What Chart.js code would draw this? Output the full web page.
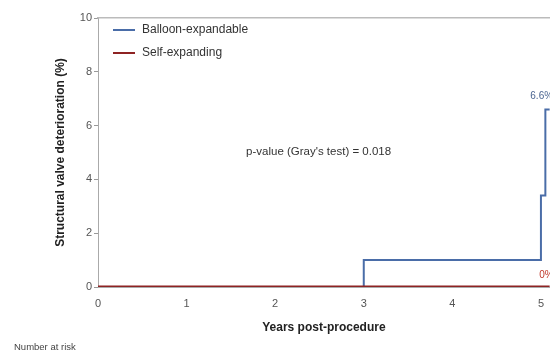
<!DOCTYPE html>
<html>
<head>
<meta charset="utf-8">
<script src="https://cdn.jsdelivr.net/npm/chart.js@4/dist/chart.umd.min.js"></script>
<style>
  html, body { margin: 0; padding: 0; background: #fff; overflow: hidden; }
  #wrap { width: 550px; height: 353px; }
</style>
</head>
<body>
<div id="wrap"><canvas id="sdvChart" width="550" height="353"></canvas></div>
<script>
// years post-procedure vs cumulative incidence (%)
const xTicks = [0, 1, 2, 3, 4, 5];
const yTicks = [0, 2, 4, 6, 8, 10];
const balloonX = [0, 3, 5, 5.05, 5.1];
const balloonY = [0, 1.0, 3.4, 6.6, 6.6];
const selfX = [0, 5.1];
const selfY = [0, 0];
const seriesNames = ['Balloon-expandable', 'Self-expanding'];
const seriesColors = ['#4a6da8', '#8e2323'];
const endLabels = ['6.6%', '0%'];
const pValueText = "p-value (Gray's test) = 0.018";

const toPoints = (xs, ys) => xs.map((x, i) => ({ x: x, y: ys[i] }));

const FONT = '"Liberation Sans", Arial, sans-serif';

// legend sits inside the plot, top left, plus the free text labels
const notes = {
    id: 'notes',
    afterDatasetsDraw(chart) {
        const { ctx, scales: { x, y } } = chart;
        ctx.save();
        ctx.textBaseline = 'middle';

        seriesNames.forEach((name, i) => {
            const ly = 30 + i * 23;
            ctx.strokeStyle = seriesColors[i];
            ctx.lineWidth = 2;
            ctx.beginPath();
            ctx.moveTo(113, ly);
            ctx.lineTo(135, ly);
            ctx.stroke();
            ctx.fillStyle = '#333';
            ctx.textAlign = 'left';
            ctx.font = '12px ' + FONT;
            ctx.fillText(name, 142, ly);
        });

        ctx.font = '11.5px ' + FONT;
        ctx.fillStyle = '#333';
        ctx.textAlign = 'center';
        ctx.fillText(pValueText, x.getPixelForValue(2.49), y.getPixelForValue(5.02));

        ctx.textAlign = 'left';
        ctx.font = '10px ' + FONT;
        ctx.fillStyle = '#4a6490';
        ctx.fillText(endLabels[0], x.getPixelForValue(4.88), y.getPixelForValue(7.1));
        ctx.fillStyle = '#c0392b';
        ctx.fillText(endLabels[1], x.getPixelForValue(4.98), y.getPixelForValue(0.45));

        ctx.fillStyle = '#444';
        ctx.font = '9.5px ' + FONT;
        ctx.fillText('Number at risk', 14, 347);
        ctx.restore();
    }
};

document.addEventListener('DOMContentLoaded', () => {
    const sdvCtx = document.getElementById('sdvChart').getContext('2d');
    const sdvChart = new Chart(sdvCtx, {
        type: 'line',
        data: {
            datasets: [
                {
                    label: seriesNames[0],
                    data: toPoints(balloonX, balloonY),
                    borderColor: seriesColors[0],
                    backgroundColor: seriesColors[0],
                    borderWidth: 2,
                    stepped: true,
                    pointRadius: 0,
                    fill: false,
                    order: 2
                },
                {
                    label: seriesNames[1],
                    data: toPoints(selfX, selfY),
                    borderColor: seriesColors[1],
                    backgroundColor: seriesColors[1],
                    borderWidth: 3,
                    pointRadius: 0,
                    fill: false,
                    order: 1
                }
            ]
        },
        options: {
            responsive: false,
            animation: false,
            layout: {
                padding: { top: 18, right: 0, left: 0, bottom: 18 }
            },
            scales: {
                x: {
                    type: 'linear',
                    min: 0,
                    max: 5.1,
                    afterBuildTicks: (axis) => { axis.ticks = xTicks.map(v => ({ value: v })); },
                    afterFit: (axis) => { axis.height = 48; },
                    grid: {
                        display: false,
                        drawTicks: true,
                        tickLength: 4,
                        tickColor: '#999'
                    },
                    border: { display: true, color: '#aaa' },
                    ticks: {
                        color: '#555',
                        padding: 6,
                        maxRotation: 0,
                        font: { family: FONT, size: 11 }
                    },
                    title: {
                        display: true,
                        text: 'Years post-procedure',
                        color: '#222',
                        padding: { top: 0, bottom: 0 },
                        font: { family: FONT, size: 12, weight: 'bold' }
                    }
                },
                y: {
                    min: 0,
                    max: 10,
                    afterBuildTicks: (axis) => { axis.ticks = yTicks.map(v => ({ value: v })); },
                    afterFit: (axis) => { axis.width = 98; },
                    grid: {
                        display: true,
                        drawOnChartArea: false,
                        tickLength: 4,
                        tickColor: '#999'
                    },
                    border: { display: true, color: '#aaa' },
                    ticks: {
                        color: '#555',
                        padding: 2,
                        font: { family: FONT, size: 11 }
                    },
                    title: {
                        display: true,
                        text: 'Structural valve deterioration (%)',
                        color: '#222',
                        padding: { top: 53, bottom: 0 },
                        font: { family: FONT, size: 12, weight: 'bold' }
                    }
                },
                top: {
                    type: 'linear',
                    position: 'top',
                    min: 0,
                    max: 5.1,
                    afterFit: (axis) => { axis.height = 0; },
                    ticks: { display: false },
                    grid: { display: false },
                    border: { display: true, color: '#bbb', width: 1.5 }
                }
            },
            plugins: {
                legend: { display: false },
                tooltip: { enabled: false }
            }
        },
        plugins: [notes]
    });
});
</script>
</body>
</html>
